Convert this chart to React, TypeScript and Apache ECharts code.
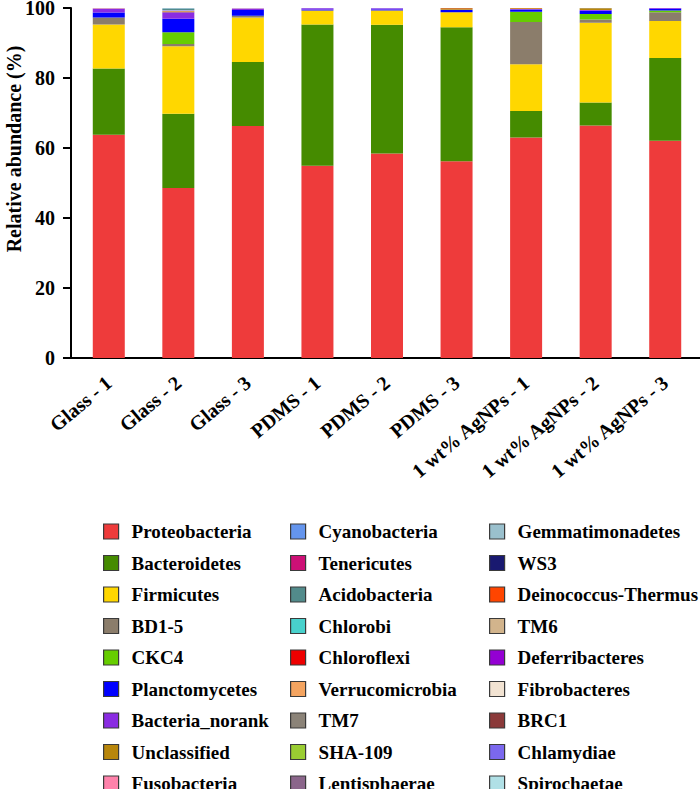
import React, { useEffect, useRef } from "react";
import * as echarts from "echarts";

const categories = [
  "Glass - 1",
  "Glass - 2",
  "Glass - 3",
  "PDMS - 1",
  "PDMS - 2",
  "PDMS - 3",
  "1 wt% AgNPs - 1",
  "1 wt% AgNPs - 2",
  "1 wt% AgNPs - 3",
];

const yTicks = [0, 20, 40, 60, 80, 100];
const yTitle = "Relative abundance (%)";

// relative abundance (%) per phylum, one value per sample
const proteobacteria = [63.8, 48.6, 66.3, 54.9, 58.4, 56.2, 63.0, 66.4, 62.1];
const bacteroidetes = [18.9, 21.2, 18.3, 40.4, 36.8, 38.3, 7.6, 6.6, 23.6];
const firmicutes = [12.6, 19.3, 12.7, 4.0, 4.1, 4.3, 13.3, 22.8, 10.6];
const bd15 = [2.0, 0.6, 0.4, 0, 0, 0, 12.1, 0.9, 2.5];
const ckc4 = [0, 3.4, 0.1, 0, 0, 0, 2.9, 1.6, 0.5];
const planctomycetes = [1.4, 3.8, 1.6, 0.3, 0.3, 0.6, 0.7, 0.9, 0.5];
const bacteriaNorank = [1.0, 1.9, 0.4, 0.3, 0.3, 0.1, 0.1, 0.2, 0.2];
const unclassified = [0.1, 0.3, 0, 0, 0, 0.4, 0.2, 0.5, 0];
const fusobacteria = [0.1, 0.2, 0.1, 0, 0, 0, 0, 0, 0];
const cyanobacteria = [0, 0.1, 0.1, 0, 0, 0, 0, 0, 0];
const tenericutes = [0, 0, 0, 0, 0, 0, 0, 0, 0];
const acidobacteria = [0, 0.3, 0, 0, 0, 0, 0, 0, 0];
const chlorobi = [0, 0, 0, 0, 0, 0, 0, 0, 0];
const chloroflexi = [0, 0, 0, 0, 0, 0.1, 0, 0, 0];
const verrucomicrobia = [0, 0, 0, 0, 0, 0, 0, 0, 0];
const tm7 = [0, 0, 0, 0, 0, 0, 0, 0.1, 0];
const sha109 = [0, 0, 0, 0, 0, 0, 0, 0, 0];
const lentisphaerae = [0, 0, 0, 0, 0, 0, 0, 0, 0];
const gemmatimonadetes = [0, 0.3, 0, 0, 0, 0, 0, 0, 0];
const ws3 = [0, 0, 0, 0, 0, 0, 0, 0, 0];
const deinococcus = [0, 0, 0, 0, 0, 0, 0.1, 0, 0];
const tm6 = [0, 0, 0, 0, 0, 0, 0, 0, 0];
const deferribacteres = [0, 0, 0, 0, 0, 0, 0, 0, 0];
const fibrobacteres = [0, 0, 0, 0, 0, 0, 0, 0, 0];
const brc1 = [0, 0, 0, 0, 0, 0, 0, 0, 0];
const chlamydiae = [0.1, 0, 0, 0.1, 0.1, 0, 0, 0, 0];
const spirochaetae = [0, 0, 0, 0, 0, 0, 0, 0, 0];

const phylumNames = [
  "Proteobacteria", "Bacteroidetes", "Firmicutes", "BD1-5", "CKC4",
  "Planctomycetes", "Bacteria_norank", "Unclassified", "Fusobacteria",
  "Cyanobacteria", "Tenericutes", "Acidobacteria", "Chlorobi", "Chloroflexi",
  "Verrucomicrobia", "TM7", "SHA-109", "Lentisphaerae",
  "Gemmatimonadetes", "WS3", "Deinococcus-Thermus", "TM6", "Deferribacteres",
  "Fibrobacteres", "BRC1", "Chlamydiae", "Spirochaetae",
];

const phylumValues = [
  proteobacteria, bacteroidetes, firmicutes, bd15, ckc4,
  planctomycetes, bacteriaNorank, unclassified, fusobacteria,
  cyanobacteria, tenericutes, acidobacteria, chlorobi, chloroflexi,
  verrucomicrobia, tm7, sha109, lentisphaerae,
  gemmatimonadetes, ws3, deinococcus, tm6, deferribacteres,
  fibrobacteres, brc1, chlamydiae, spirochaetae,
];

const phylumColors = [
  "#EE3B3B", "#458B00", "#FFD700", "#8B7D6B", "#66CD00",
  "#0000FF", "#8A2BE2", "#B8860B", "#FF82AB",
  "#6495ED", "#CD1076", "#528B8B", "#48D1CC", "#EE0000",
  "#F4A460", "#8B8378", "#9ACD32", "#8B668B",
  "#9AC0CD", "#191970", "#FF4500", "#D2B48C", "#9400D3",
  "#F2E3D2", "#8B3A3A", "#7B68EE", "#B0E0E6",
];

const FONT = "'Liberation Serif', 'Times New Roman', serif";

export default function App() {
  const ref = useRef<HTMLDivElement>(null);

  useEffect(() => {
    document.body.style.margin = "0";
    if (!ref.current) return;
    const chart = echarts.init(ref.current, undefined, { renderer: "svg" });

    const series = phylumNames.map((name, i) => ({
      name,
      type: "bar" as const,
      stack: "total",
      barWidth: 32,
      data: phylumValues[i],
      itemStyle: { color: phylumColors[i] },
    }));

    const legendCommon = {
      orient: "vertical" as const,
      top: 522,
      height: 320,
      padding: 0,
      itemWidth: 15,
      itemHeight: 15,
      itemGap: 12.5,
      icon: "rect",
      itemStyle: { borderColor: "#3a3a3a", borderWidth: 1.2 },
      textStyle: {
        fontFamily: FONT,
        fontWeight: "bold" as const,
        fontSize: 19,
        color: "#000",
        padding: [0, 0, 0, 8],
      },
    };

    chart.setOption({
      animation: false,
      backgroundColor: "#fff",
      grid: {
        left: 74,
        top: 8,
        width: 626,
        height: 350,
        containLabel: false,
        outerBoundsMode: "none",
      },
      graphic: [
        {
          type: "line",
          shape: { x1: 70, y1: 358, x2: 75, y2: 358 },
          style: { stroke: "#000", lineWidth: 2 },
        },
        {
          type: "text",
          x: 14,
          y: 149,
          rotation: Math.PI / 2,
          style: {
            text: yTitle,
            fontFamily: FONT,
            fontWeight: "bold",
            fontSize: 20,
            fill: "#000",
            align: "center",
            verticalAlign: "middle",
          },
        },
      ],
      xAxis: {
        type: "category",
        data: categories,
        axisLine: { lineStyle: { color: "#000", width: 2 } },
        axisTick: { alignWithLabel: true, length: 10, lineStyle: { color: "#000", width: 2 } },
        axisLabel: {
          interval: 0,
          rotate: 40,
          margin: 22,
          color: "#000",
          fontFamily: FONT,
          fontWeight: "bold",
          fontSize: 20,
        },
      },
      yAxis: {
        type: "value",
        min: 0,
        max: 100,
        interval: 20,
        offset: 3,
        axisLine: { show: true, lineStyle: { color: "#000", width: 2 } },
        axisTick: { show: true, length: 8, lineStyle: { color: "#000", width: 2 } },
        splitLine: { show: false },
        axisLabel: {
          margin: 16,
          color: "#000",
          fontFamily: FONT,
          fontWeight: "bold",
          fontSize: 20,
          formatter: (v: number) => (yTicks.includes(v) ? String(v) : ""),
        },
      },
      legend: [
        { ...legendCommon, left: 103, data: phylumNames.slice(0, 9) },
        { ...legendCommon, left: 290, data: phylumNames.slice(9, 18) },
        { ...legendCommon, left: 489, data: phylumNames.slice(18, 27) },
      ],
      series,
    });

    return () => chart.dispose();
  }, []);

  return <div ref={ref} style={{ width: 700, height: 789 }} />;
}
